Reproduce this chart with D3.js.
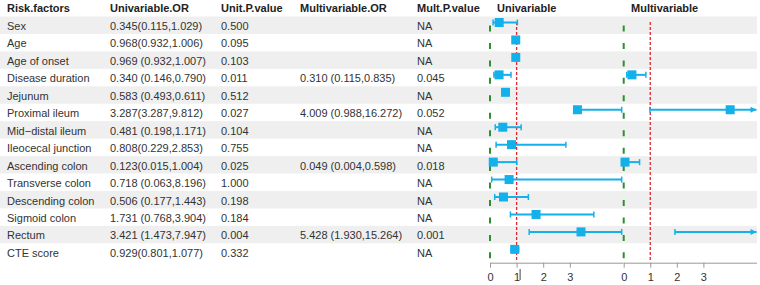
<!DOCTYPE html>
<html>
<head>
<meta charset="utf-8">
<script src="https://cdn.jsdelivr.net/npm/d3@7/dist/d3.min.js"></script>
<style>
  html, body { margin: 0; padding: 0; background: #fff; }
  svg { display: block; font-family: "Liberation Sans", Arial, sans-serif; }
</style>
</head>
<body>
<svg id="chart" width="760" height="285"></svg>
<script>
const headers = ["Risk.factors", "Univariable.OR", "Unit.P.value", "Multivariable.OR", "Mult.P.value"];
const factors = ["Sex", "Age", "Age of onset", "Disease duration", "Jejunum", "Proximal ileum",
  "Mid\u2212distal ileum", "Ileocecal junction", "Ascending colon", "Transverse colon",
  "Descending colon", "Sigmoid colon", "Rectum", "CTE score"];
const uniText = ["0.345(0.115,1.029)", "0.968(0.932,1.006)", "0.969 (0.932,1.007)", "0.340 (0.146,0.790)",
  "0.583 (0.493,0.611)", "3.287(3.287,9.812)", "0.481 (0.198,1.171)", "0.808(0.229,2.853)",
  "0.123(0.015,1.004)", "0.718 (0.063,8.196)", "0.506 (0.177,1.443)", "1.731 (0.768,3.904)",
  "3.421 (1.473,7.947)", "0.929(0.801,1.077)"];
const uniP = ["0.500", "0.095", "0.103", "0.011", "0.512", "0.027", "0.104", "0.755", "0.025",
  "1.000", "0.198", "0.184", "0.004", "0.332"];
const multText = ["", "", "", "0.310 (0.115,0.835)", "", "4.009 (0.988,16.272)", "", "",
  "0.049 (0.004,0.598)", "", "", "", "5.428 (1.930,15.264)", ""];
const multP = ["NA", "NA", "NA", "0.045", "NA", "0.052", "NA", "NA", "0.018", "NA", "NA", "NA", "0.001", "NA"];
const uniOR   = [0.345, 0.968, 0.969, 0.340, 0.583, 3.287, 0.481, 0.808, 0.123, 0.718, 0.506, 1.731, 3.421, 0.929];
const uniLow  = [0.115, 0.932, 0.932, 0.146, 0.493, 3.287, 0.198, 0.229, 0.015, 0.063, 0.177, 0.768, 1.473, 0.801];
const uniHigh = [1.029, 1.006, 1.007, 0.790, 0.611, 9.812, 1.171, 2.853, 1.004, 8.196, 1.443, 3.904, 7.947, 1.077];
const multOR   = [null, null, null, 0.310, null, 4.009, null, null, 0.049, null, null, null, 5.428, null];
const multLow  = [null, null, null, 0.115, null, 0.988, null, null, 0.004, null, null, null, 1.930, null];
const multHigh = [null, null, null, 0.835, null, 16.272, null, null, 0.598, null, null, null, 15.264, null];
const tickValues = [0, 1, 2, 3];
const panelTitles = ["Univariable", "Multivariable"];

const svg = d3.select("#chart");
const blue = "#14b0ea";
const rowScale = d3.scaleLinear().domain([0, factors.length - 1]).range([30, 30 + 13 * 17.45]);
const xUni = d3.scaleLinear().domain([0, 5]).range([490, 623]);
const xMul = d3.scaleLinear().domain([0, 5]).range([623.7, 756.5]);
const rowH = 17.45;

// bands
svg.append("g").selectAll("rect").data(factors).join("rect")
  .filter((d, i) => i % 2 === 0)
  .attr("x", 0).attr("width", 757)
  .attr("y", (d, i) => rowScale(i * 2) - 4.8 - rowH / 2)
  .attr("height", rowH)
  .attr("fill", "#efefef");

// headers
const colX = [7, 110, 221, 300, 417];
svg.append("g").selectAll("text").data(headers).join("text")
  .attr("x", (d, i) => colX[i]).attr("y", 12)
  .attr("font-size", 11).attr("font-weight", "bold").attr("fill", "#222")
  .text(d => d);
svg.append("g").selectAll("text").data(panelTitles).join("text")
  .attr("x", (d, i) => [497, 631][i]).attr("y", 12)
  .attr("font-size", 11).attr("font-weight", "bold").attr("fill", "#222")
  .text(d => d);

// table body
const cols = [factors, uniText, uniP, multText, multP];
cols.forEach((arr, c) => {
  svg.append("g").selectAll("text").data(arr).join("text")
    .attr("x", colX[c]).attr("y", (d, i) => rowScale(i))
    .attr("font-size", 11).attr("fill", "#333")
    .text(d => d);
});

// reference lines
const yTop = 22, yBot = 262;
[xUni(0), xMul(0)].forEach(x => {
  svg.append("line").attr("x1", x).attr("x2", x).attr("y1", rowScale(0) - 4.5).attr("y2", yBot)
    .attr("stroke", "#2f8f2f").attr("stroke-width", 2)
    .attr("stroke-dasharray", "6," + (rowH - 6));
});
[xUni(1), xMul(1)].forEach(x => {
  svg.append("line").attr("x1", x).attr("x2", x).attr("y1", yTop).attr("y2", yBot)
    .attr("stroke", "#e3262b").attr("stroke-width", 1.3)
    .attr("stroke-dasharray", "3,2");
});

// forest marks
function drawPanel(x, ors, lows, highs, clipMode) {
  const g = svg.append("g");
  const [d0, d1] = x.domain();
  ors.forEach((or, i) => {
    if (or === null) return;
    const cy = rowScale(i) - 7.5;
    const lo = Math.max(lows[i], d0);
    const hiClipped = highs[i] > d1;
    const hiX = hiClipped ? (clipMode === "cap" ? x(d1) - 1.3 : x(d1)) : x(highs[i]);
    const loX = x(lo);
    g.append("line").attr("x1", loX).attr("x2", hiX).attr("y1", cy).attr("y2", cy)
      .attr("stroke", blue).attr("stroke-width", 2);
    // left cap
    g.append("line").attr("x1", loX).attr("x2", loX).attr("y1", cy - 3).attr("y2", cy + 3)
      .attr("stroke", blue).attr("stroke-width", 1.5);
    if (hiClipped && clipMode === "arrow") {
      g.append("path")
        .attr("d", `M${hiX},${cy} L${hiX - 6},${cy - 3} L${hiX - 6},${cy + 3} Z`)
        .attr("fill", blue);
    } else {
      g.append("line").attr("x1", hiX).attr("x2", hiX).attr("y1", cy - 3).attr("y2", cy + 3)
        .attr("stroke", blue).attr("stroke-width", 1.5);
    }
    if (or <= d1) {
      g.append("rect").attr("x", x(or) - 4.5).attr("y", cy - 4.5)
        .attr("width", 9).attr("height", 9).attr("fill", blue);
    }
  });
}
drawPanel(xUni, uniOR, uniLow, uniHigh, "cap");
drawPanel(xMul, multOR, multLow, multHigh, "arrow");

// axes
[xUni, xMul].forEach(x => {
  const ax = svg.append("g").attr("transform", "translate(0,262.7)")
    .call(d3.axisBottom(x).tickValues(tickValues).tickSize(5).tickSizeOuter(0).tickFormat(d3.format("d")));
  ax.select(".domain").attr("stroke", "#999");
  ax.selectAll(".tick line").attr("stroke", "#999");
  ax.selectAll(".tick text").attr("font-size", 11).attr("fill", "#333")
    .attr("font-family", "Liberation Sans, Arial, sans-serif").attr("dy", "0.9em");
});
// stray cursor-like mark after uni "1"
svg.append("line").attr("x1", xUni(1) + 3.5).attr("x2", xUni(1) + 3.5)
  .attr("y1", 269).attr("y2", 280).attr("stroke", "#444").attr("stroke-width", 1);
</script>
</body>
</html>
